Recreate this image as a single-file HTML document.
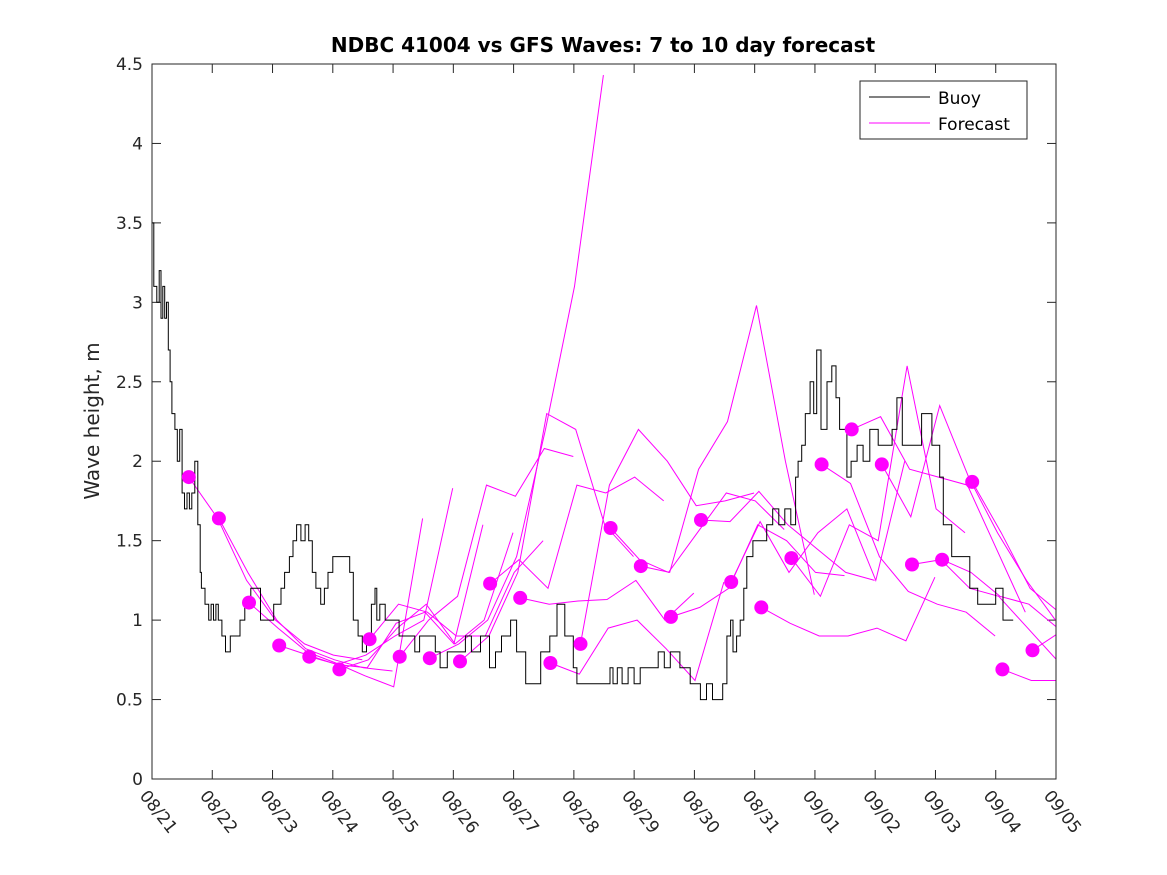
<!DOCTYPE html>
<html><head><meta charset="utf-8"><style>
html,body{margin:0;padding:0;background:#fff;}
svg{display:block;font-family:"DejaVu Sans","Liberation Sans",sans-serif;}
</style></head><body>
<svg id="chart" width="1167" height="875" viewBox="0 0 1167 875" xmlns="http://www.w3.org/2000/svg">
<rect x="0" y="0" width="1167" height="875" fill="#fff"/>
<defs><clipPath id="plotclip"><rect x="152" y="64" width="904" height="715"/></clipPath></defs>
<text x="603" y="52" text-anchor="middle" font-size="20" font-weight="bold" fill="#000">NDBC 41004 vs GFS Waves: 7 to 10 day forecast</text>
<text transform="translate(99,421) rotate(-90)" text-anchor="middle" font-size="20" fill="#262626">Wave height, m</text>
<g id="axes"></g>
<g id="series" clip-path="url(#plotclip)"></g>
<rect x="152" y="64" width="904" height="715" fill="none" stroke="#262626" stroke-width="1"/>
<g>
<rect x="860" y="81" width="167" height="58" fill="#fff" stroke="#262626" stroke-width="1"/>
<line x1="869" y1="97" x2="930" y2="97" stroke="#000" stroke-width="1"/>
<text x="938" y="104" font-size="17" fill="#000">Buoy</text>
<line x1="869" y1="123" x2="930" y2="123" stroke="#ff00ff" stroke-width="1"/>
<text x="938" y="130" font-size="17" fill="#000">Forecast</text>
</g>
</svg>
<script>
// ---- data ----
const xTickLabels = ["08/21","08/22","08/23","08/24","08/25","08/26","08/27","08/28","08/29","08/30","08/31","09/01","09/02","09/03","09/04","09/05"];
const yTicks = [0,0.5,1,1.5,2,2.5,3,3.5,4,4.5];
const yTickLabels = ["0","0.5","1","1.5","2","2.5","3","3.5","4","4.5"];
// buoy: days since 08/21 00:00, height (m)
const buoyTimes = [0,0.03,0.08,0.12,0.15,0.18,0.21,0.24,0.27,0.3,0.33,0.36,0.38,0.42,0.46,0.5,0.54,0.58,0.62,0.66,0.71,0.76,0.8,0.82,0.88,0.94,0.98,1.02,1.06,1.1,1.16,1.22,1.3,1.36,1.4,1.46,1.54,1.64,1.72,1.8,1.86,1.92,2.02,2.14,2.2,2.28,2.34,2.4,2.47,2.54,2.6,2.66,2.72,2.8,2.86,2.92,3.0,3.07,3.2,3.28,3.34,3.42,3.49,3.56,3.64,3.7,3.73,3.78,3.87,4.0,4.1,4.24,4.36,4.44,4.6,4.7,4.78,4.9,5.06,5.2,5.3,5.45,5.6,5.7,5.8,5.95,6.05,6.2,6.35,6.45,6.6,6.72,6.85,6.99,7.05,7.55,7.6,7.65,7.72,7.8,7.9,8.0,8.1,8.3,8.4,8.5,8.6,8.76,8.93,9.1,9.2,9.3,9.47,9.54,9.6,9.64,9.7,9.76,9.82,9.87,9.97,10.1,10.2,10.3,10.4,10.5,10.6,10.68,10.72,10.78,10.84,10.92,10.98,11.03,11.1,11.2,11.28,11.35,11.41,11.53,11.6,11.7,11.8,11.91,12.05,12.2,12.28,12.36,12.45,12.63,12.77,12.86,12.94,13.07,13.13,13.27,13.4,13.57,13.7,13.85,14.0,14.12,14.29];
const buoyHeights = [3.5,3.1,3.0,3.2,2.9,3.1,2.9,3.0,2.7,2.5,2.3,2.3,2.2,2.0,2.2,1.8,1.7,1.8,1.7,1.8,2.0,1.6,1.3,1.2,1.1,1.0,1.1,1.0,1.1,1.0,0.9,0.8,0.9,0.9,0.9,1.0,1.1,1.2,1.2,1.0,1.0,1.0,1.1,1.2,1.3,1.4,1.5,1.6,1.5,1.6,1.5,1.3,1.2,1.1,1.2,1.3,1.4,1.4,1.4,1.3,1.0,0.9,0.8,0.9,1.1,1.2,1.0,1.1,1.0,1.0,0.9,0.9,0.8,0.9,0.9,0.8,0.7,0.8,0.8,0.9,0.8,0.9,0.7,0.8,0.9,1.0,0.8,0.6,0.6,0.8,0.9,1.1,0.9,0.7,0.6,0.6,0.7,0.6,0.7,0.6,0.7,0.6,0.7,0.7,0.8,0.7,0.8,0.7,0.6,0.5,0.6,0.5,0.6,0.9,1.0,0.8,0.9,1.0,1.2,1.4,1.5,1.5,1.6,1.7,1.6,1.7,1.6,1.9,2.0,2.1,2.3,2.5,2.3,2.7,2.2,2.5,2.6,2.4,2.2,1.9,2.0,2.1,2.0,2.2,2.1,2.1,2.2,2.4,2.1,2.1,2.3,2.3,2.1,1.9,1.6,1.4,1.4,1.2,1.1,1.1,1.2,1.0,1.0];
// forecast runs: start time (days), then heights every 12 h
const forecastStarts = [0.61,1.11,1.61,2.11,2.61,3.11,3.61,4.11,4.61,5.11,5.61,6.11,6.61,7.11,7.61,8.11,8.61,9.11,9.61,10.11,10.61,11.11,11.61,12.11,12.61,13.11,13.61,14.11,14.61];
const forecastDots = [1.90,1.64,1.11,0.84,0.77,0.69,0.88,0.77,0.76,0.74,1.23,1.14,0.73,0.85,1.58,1.34,1.02,1.63,1.24,1.08,1.39,1.98,2.20,1.98,1.35,1.38,1.87,0.69,0.81];
const fc00 = [1.90,1.64,1.25,1.00,0.85,0.78,0.75];
const fc01 = [1.64,1.30,1.00,0.82,0.75,0.70,0.68];
const fc02 = [1.11,0.95,0.80,0.73,0.65,0.58,1.64];
const fc03 = [0.84,0.78,0.72,0.78,0.90,1.00,1.83];
const fc04 = [0.77,0.72,0.70,0.98,1.05,0.85,1.60];
const fc05 = [0.69,0.75,0.95,1.10,0.85,1.00,1.55];
const fc06 = [0.88,1.10,1.05,0.90,0.90,1.30,1.50];
const fc07 = [0.77,1.00,1.15,1.85,1.78,2.08,2.03];
const fc08 = [0.76,0.85,1.00,1.40,2.20,3.10,4.43];
const fc09 = [0.74,0.90,1.30,2.30,2.20,1.60,1.40];
const fc10 = [1.23,1.38,1.20,1.85,1.80,1.90,1.75];
const fc11 = [1.14,1.10,1.12,1.13,1.25,1.00,1.17];
const fc12 = [0.73,0.66,0.95,1.00,0.82,0.62,1.24];
const fc13 = [0.85,1.85,2.20,2.00,1.72,1.75,1.80];
const fc14 = [1.58,1.38,1.30,1.55,1.80,1.75,1.57];
const fc15 = [1.34,1.30,1.95,2.25,2.98,2.00,1.16];
const fc16 = [1.02,1.08,1.20,1.60,1.50,1.30,1.28];
const fc17 = [1.63,1.62,1.81,1.60,1.45,1.30,1.25];
const fc18 = [1.24,1.62,1.30,1.55,1.70,1.25,2.00];
const fc19 = [1.08,0.98,0.90,0.90,0.95,0.87,1.27];
const fc20 = [1.39,1.15,1.60,1.50,2.60,1.70,1.55];
const fc21 = [1.98,1.86,1.40,1.18,1.10,1.05,0.90];
const fc22 = [2.20,2.28,1.95,1.90,1.85,1.45,1.05];
const fc23 = [1.98,1.65,2.35,1.90,1.55,1.25,1.00];
const fc24 = [1.35,1.38,1.20,1.15,0.95,0.75,0.70];
const fc25 = [1.38,1.30,1.15,1.10,0.95,0.85,0.75];
const fc26 = [1.87,1.55,1.20,1.05,0.95];
const fc27 = [0.69,0.62,0.62];
const fc28 = [0.81,0.93];
const forecastRuns = [fc00,fc01,fc02,fc03,fc04,fc05,fc06,fc07,fc08,fc09,fc10,fc11,fc12,fc13,fc14,fc15,fc16,fc17,fc18,fc19,fc20,fc21,fc22,fc23,fc24,fc25,fc26,fc27,fc28];

// ---- axes ----
const X0=152,X1=1056,Y0=779,Y1=64,TMAX=15,VMAX=4.5;
function xs(t){return X0+(X1-X0)*t/TMAX;}
function ys(v){return Y0-(Y0-Y1)*v/VMAX;}
const NS="http://www.w3.org/2000/svg";
function mk(tag,attrs,parent){const e=document.createElementNS(NS,tag);for(const k in attrs)e.setAttribute(k,attrs[k]);parent.appendChild(e);return e;}
const axes=document.getElementById('axes');
const series=document.getElementById('series');

xTickLabels.forEach((lab,i)=>{
  const x=xs(i);
  const t1=mk('line',{x1:x,y1:Y0,x2:x,y2:Y0-9,stroke:'#262626'},axes);
  
  
  const t2=mk('line',{x1:x,y1:Y1,x2:x,y2:Y1+9,stroke:'#262626'},axes);
  
  
  const tx=mk('text',{transform:`translate(${x-13},${Y0+17}) rotate(52)`,'font-size':17,fill:'#262626'},axes);
  tx.textContent=lab;
  
  
});
yTicks.forEach((v,i)=>{
  const y=ys(v);
  const t1=mk('line',{x1:X0,y1:y,x2:X0+9,y2:y,stroke:'#262626'},axes);
  
  
  const t2=mk('line',{x1:X1,y1:y,x2:X1-9,y2:y,stroke:'#262626'},axes);
  
  
  const tx=mk('text',{x:X0-9,y:y+6,'text-anchor':'end','font-size':17,fill:'#262626'},axes);
  tx.textContent=yTickLabels[i];
  
  
});

// ---- forecast lines ----
forecastRuns.forEach((run,k)=>{
  const pts=run.map((v,j)=>xs(forecastStarts[k]+0.48*j).toFixed(1)+','+ys(v).toFixed(1)).join(' ');
  const pl=mk('polyline',{points:pts,fill:'none',stroke:'#ff00ff','stroke-width':1},series);
  
  
});
// ---- buoy step line ----
let d='';
buoyTimes.forEach((t,i)=>{
  const x=xs(t).toFixed(1),y=ys(buoyHeights[i]).toFixed(1);
  if(i===0)d+=`M${x},${y}`;else d+=`H${x}V${y}`;
});
const bl=mk('path',{d:d,fill:'none',stroke:'#000','stroke-width':1},series);


// ---- forecast dots ----
forecastDots.forEach((v,k)=>{
  const c=mk('circle',{cx:xs(forecastStarts[k]).toFixed(1),cy:ys(v).toFixed(1),r:7,fill:'#ff00ff'},series);
  
  
});
</script>
</body></html>
